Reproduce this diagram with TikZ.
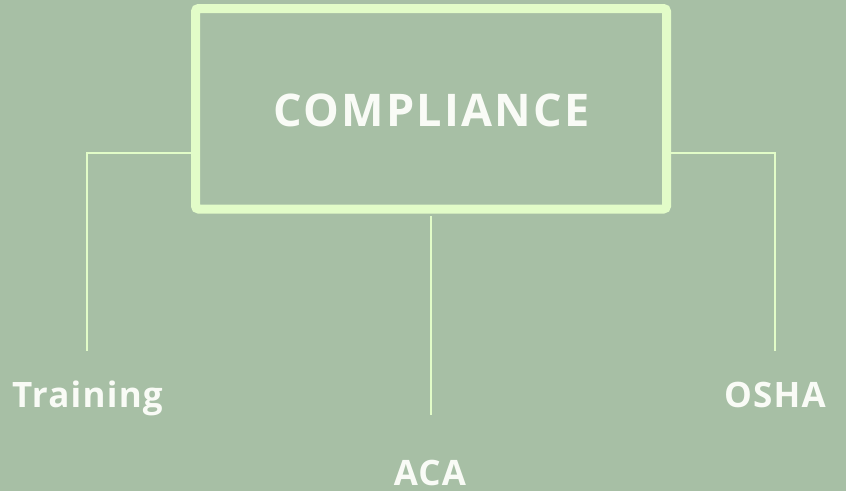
\documentclass[tikz,border=0pt]{standalone}
\usepackage{fontspec}
\setmainfont{Open Sans}
\definecolor{bg}{HTML}{A7BFA5}
\definecolor{lineg}{HTML}{E2FCC8}
\definecolor{txt}{HTML}{F9FBF6}
\begin{document}
\begin{tikzpicture}[x=1pt,y=-1pt,
  conn/.style={draw=lineg, line width=2pt},
  lbl/.style={text=txt, font=\fontsize{35}{40}\selectfont\addfontfeatures{LetterSpace=3.5}\bfseries, inner sep=0pt, anchor=base}]
\fill[bg] (0,0) rectangle (846,491);
\useasboundingbox (0,0) rectangle (846,491);
\node[draw=lineg, line width=9pt, rounded corners=3pt, minimum width=471pt, minimum height=200.5pt, inner sep=0pt] (box) at (431,108.75) {};
\node[text=txt, font=\fontsize{45}{50}\selectfont\addfontfeatures{LetterSpace=4.8}\bfseries, inner sep=0pt, anchor=base] (title) at (431.5,126) {COMPLIANCE};
\node[lbl] (train) at (87.5,407) {Training};
\node[lbl] (aca) at (430,485) {ACA};
\node[lbl] (osha) at (775,407) {OSHA};
\coordinate (lb) at (87,351);
\coordinate (rb) at (775,351);
\coordinate (at) at (431,216);
\coordinate (ab) at (431,415);
\draw[conn] (box.west |- 0,153) -| (lb);
\draw[conn] (box.east |- 0,153) -| (rb);
\draw[conn] (at) -- (ab);
\end{tikzpicture}
\end{document}
